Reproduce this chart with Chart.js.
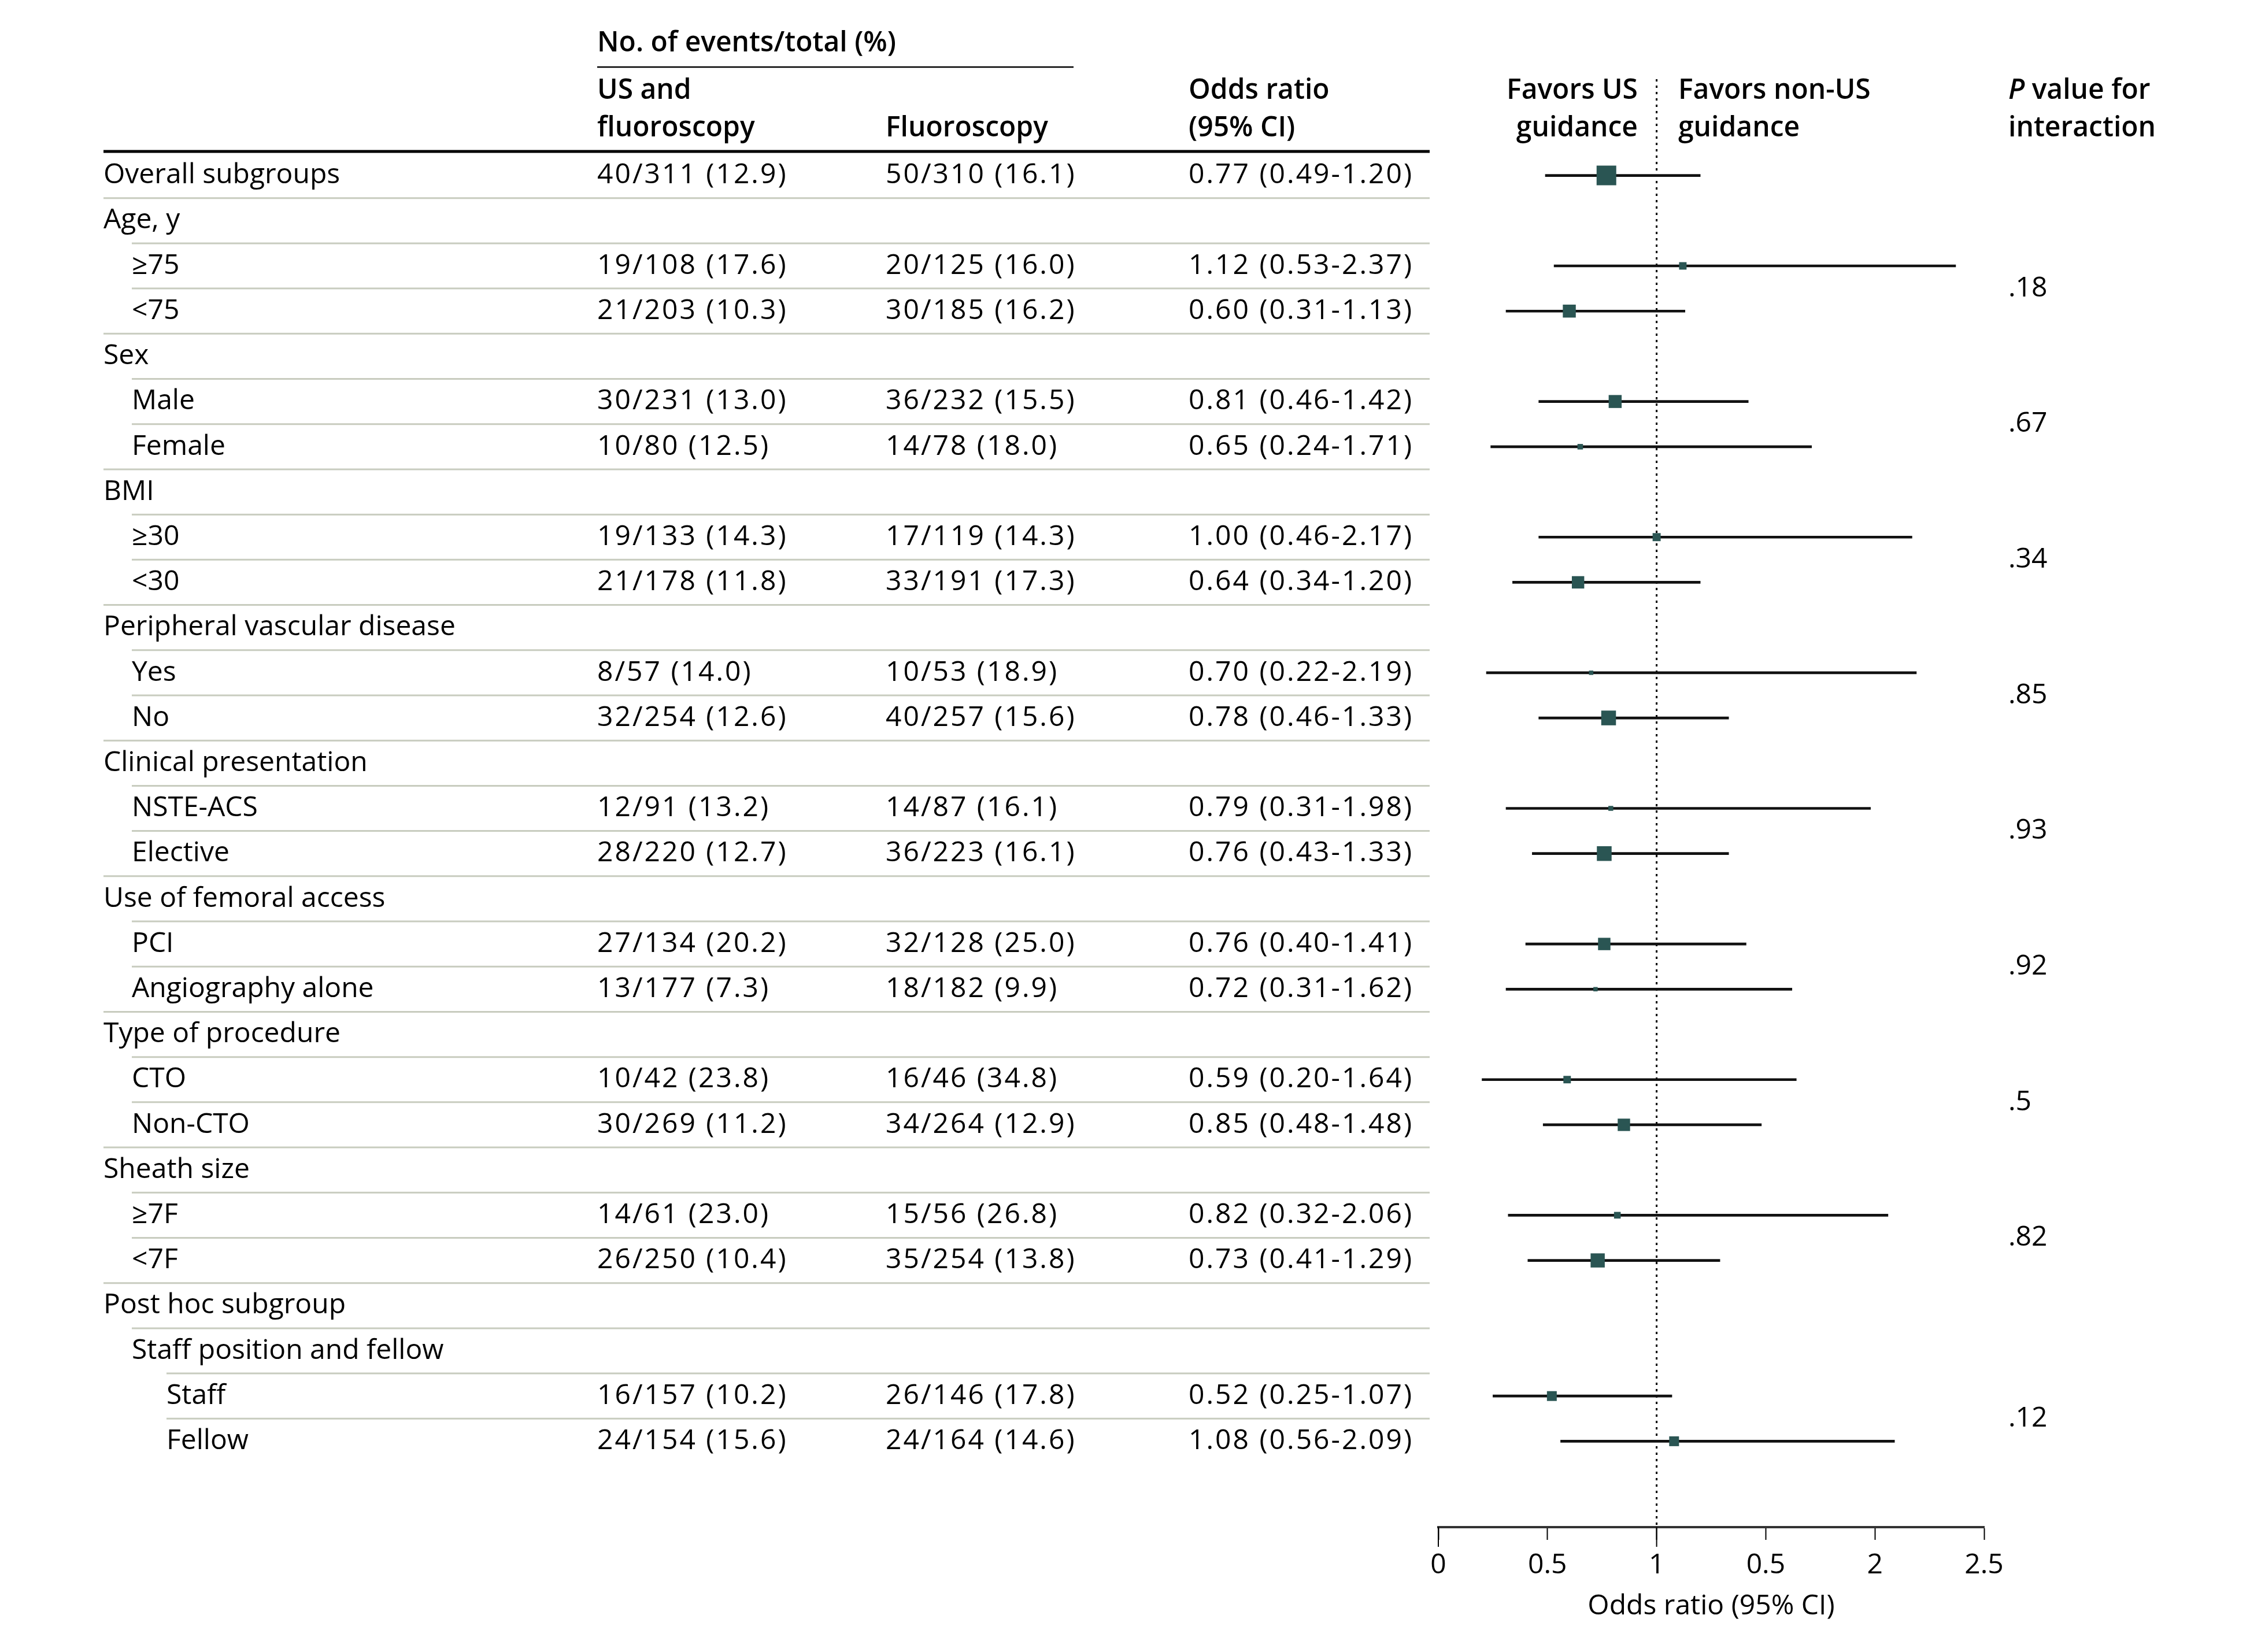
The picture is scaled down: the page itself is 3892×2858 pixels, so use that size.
<!DOCTYPE html>
<html>
<head>
<meta charset="utf-8">
<script src="https://cdn.jsdelivr.net/npm/chart.js@4.4.1/dist/chart.umd.min.js"></script>
<style>
html,body{margin:0;padding:0;background:#fff;}
#wrap{width:3892px;height:2858px;position:relative;}
</style>
</head>
<body>
<div id="wrap"><canvas id="c"></canvas></div>
<script>
// ---------- DATA ----------
const rowLabels = ['Overall subgroups','Age, y','\u226575','<75','Sex','Male','Female','BMI','\u226530','<30',
  'Peripheral vascular disease','Yes','No','Clinical presentation','NSTE-ACS','Elective','Use of femoral access',
  'PCI','Angiography alone','Type of procedure','CTO','Non-CTO','Sheath size','\u22657F','<7F','Post hoc subgroup',
  'Staff position and fellow','Staff','Fellow'];
const rowLevel = [0,0,1,1,0,1,1,0,1,1,0,1,1,0,1,1,0,1,1,0,1,1,0,1,1,0,1,2,2];
const usFluoroscopy = ['40/311 (12.9)','','19/108 (17.6)','21/203 (10.3)','','30/231 (13.0)','10/80 (12.5)','',
  '19/133 (14.3)','21/178 (11.8)','','8/57 (14.0)','32/254 (12.6)','','12/91 (13.2)','28/220 (12.7)','',
  '27/134 (20.2)','13/177 (7.3)','','10/42 (23.8)','30/269 (11.2)','','14/61 (23.0)','26/250 (10.4)','','',
  '16/157 (10.2)','24/154 (15.6)'];
const fluoroscopyOnly = ['50/310 (16.1)','','20/125 (16.0)','30/185 (16.2)','','36/232 (15.5)','14/78 (18.0)','',
  '17/119 (14.3)','33/191 (17.3)','','10/53 (18.9)','40/257 (15.6)','','14/87 (16.1)','36/223 (16.1)','',
  '32/128 (25.0)','18/182 (9.9)','','16/46 (34.8)','34/264 (12.9)','','15/56 (26.8)','35/254 (13.8)','','',
  '26/146 (17.8)','24/164 (14.6)'];
const oddsRatioText = ['0.77 (0.49-1.20)','','1.12 (0.53-2.37)','0.60 (0.31-1.13)','','0.81 (0.46-1.42)','0.65 (0.24-1.71)','',
  '1.00 (0.46-2.17)','0.64 (0.34-1.20)','','0.70 (0.22-2.19)','0.78 (0.46-1.33)','','0.79 (0.31-1.98)','0.76 (0.43-1.33)','',
  '0.76 (0.40-1.41)','0.72 (0.31-1.62)','','0.59 (0.20-1.64)','0.85 (0.48-1.48)','','0.82 (0.32-2.06)','0.73 (0.41-1.29)','','',
  '0.52 (0.25-1.07)','1.08 (0.56-2.09)'];
const oddsRatio = [0.77,null,1.12,0.60,null,0.81,0.65,null,1.00,0.64,null,0.70,0.78,null,0.79,0.76,null,0.76,0.72,null,0.59,0.85,null,0.82,0.73,null,null,0.52,1.08];
const ciLower   = [0.49,null,0.53,0.31,null,0.46,0.24,null,0.46,0.34,null,0.22,0.46,null,0.31,0.43,null,0.40,0.31,null,0.20,0.48,null,0.32,0.41,null,null,0.25,0.56];
const ciUpper   = [1.20,null,2.37,1.13,null,1.42,1.71,null,2.17,1.20,null,2.19,1.33,null,1.98,1.33,null,1.41,1.62,null,1.64,1.48,null,2.06,1.29,null,null,1.07,2.09];
const markerWeight = [1.00,null,0.38,0.66,null,0.66,0.28,null,0.41,0.63,null,0.22,0.75,null,0.25,0.75,null,0.63,0.22,null,0.38,0.63,null,0.34,0.72,null,null,0.50,0.50];
const pInteraction = ['','','.18','','','.67','','','.34','','','.85','','','.93','','','.92','','','.5','','','.82','','','','.12',''];
const xTickLabels = ['0','0.5','1','0.5','2','2.5'];
const referenceOR = 1;

// ---------- STYLE ----------
const FONT = '"Open Sans", "Noto Sans", sans-serif';
const FS = 48;
const MARKER_MAX = 34;
const TEAL = '#2a5553';
const LEVEL_X = [179, 228, 288];
const TABLE_RIGHT = 2473;
const COL_X = [1033, 1532, 2056];
const P_X = 3474;
const Y_MIN = -2.13, Y_MAX = 29.9;

const plotRows = oddsRatio.map((v,i)=>v==null?-1:i).filter(i=>i>=0);

const tablePlugin = {
  id: 'table',
  afterDraw(chart) {
    const ctx = chart.ctx;
    const y = chart.scales.y;
    const x = chart.scales.x;
    const pix = i => y.getPixelForValue(i);
    ctx.save();
    ctx.fillStyle = '#000';
    ctx.textBaseline = 'middle';
    ctx.textAlign = 'left';
    // headers
    ctx.font = `600 ${FS}px ${FONT}`;
    ctx.fillText('No. of events/total (%)', COL_X[0], 75);
    ctx.fillText('US and', COL_X[0], 157);
    ctx.fillText('fluoroscopy', COL_X[0], 222);
    ctx.fillText('Fluoroscopy', COL_X[1], 222);
    ctx.fillText('Odds ratio', COL_X[2], 157);
    ctx.fillText('(95% CI)', COL_X[2], 222);
    ctx.textAlign = 'right';
    ctx.fillText('Favors US', 2833, 157);
    ctx.fillText('guidance', 2833, 222);
    ctx.textAlign = 'left';
    ctx.fillText('Favors non-US', 2903, 157);
    ctx.fillText('guidance', 2903, 222);
    ctx.font = `italic 600 ${FS}px ${FONT}`;
    ctx.fillText('P', P_X, 157);
    const pw = ctx.measureText('P').width;
    ctx.font = `600 ${FS}px ${FONT}`;
    ctx.fillText(' value for', P_X + pw, 157);
    ctx.fillText('interaction', P_X, 222);
    // header rules
    ctx.strokeStyle = '#000';
    ctx.lineWidth = 2.5;
    ctx.beginPath(); ctx.moveTo(COL_X[0], 116); ctx.lineTo(1857, 116); ctx.stroke();
    ctx.lineWidth = 5;
    ctx.beginPath(); ctx.moveTo(LEVEL_X[0], 262); ctx.lineTo(TABLE_RIGHT, 262); ctx.stroke();
    // separators
    ctx.strokeStyle = '#c8ccbf';
    ctx.lineWidth = 3;
    for (let i = 0; i < rowLabels.length - 1; i++) {
      const yy = (pix(i) + pix(i+1)) / 2;
      ctx.beginPath(); ctx.moveTo(LEVEL_X[rowLevel[i+1]], yy); ctx.lineTo(TABLE_RIGHT, yy); ctx.stroke();
    }
    // rows
    ctx.font = `400 ${FS}px ${FONT}`;
    ctx.fillStyle = '#000';
    for (let i = 0; i < rowLabels.length; i++) {
      const yy = pix(i);
      ctx.letterSpacing = '0px';
      ctx.fillText(rowLabels[i], LEVEL_X[rowLevel[i]], yy);
      if (pInteraction[i]) ctx.fillText(pInteraction[i], P_X, (pix(i) + pix(i+1)) / 2);
      ctx.letterSpacing = '3px';
      if (usFluoroscopy[i]) ctx.fillText(usFluoroscopy[i], COL_X[0], yy);
      if (fluoroscopyOnly[i]) ctx.fillText(fluoroscopyOnly[i], COL_X[1], yy);
      if (oddsRatioText[i]) ctx.fillText(oddsRatioText[i], COL_X[2], yy);
    }
    ctx.letterSpacing = '0px';
    // long ticks at 0 and 1
    ctx.strokeStyle = '#000';
    ctx.lineWidth = 2;
    [0, 1].forEach(v => {
      const px = x.getPixelForValue(v);
      ctx.beginPath(); ctx.moveTo(px, x.top); ctx.lineTo(px, x.top + 34); ctx.stroke();
    });
    ctx.restore();
  }
};

function build() {
  new Chart(document.getElementById('c'), {
    type: 'scatter',
    data: {
      datasets: [
        {
          type: 'scatter',
          order: 0,
          data: plotRows.map(i => ({x: oddsRatio[i], y: i})),
          pointStyle: 'rect',
          pointRadius: plotRows.map(i => markerWeight[i] * MARKER_MAX / Math.SQRT2),
          pointHoverRadius: plotRows.map(i => markerWeight[i] * MARKER_MAX / Math.SQRT2),
          backgroundColor: TEAL,
          borderWidth: 0,
          clip: false
        },
        {
          type: 'bar',
          order: 1,
          indexAxis: 'y',
          data: plotRows.map(i => ({x: [ciLower[i], ciUpper[i]], y: i})),
          backgroundColor: '#111',
          borderWidth: 0,
          barThickness: 4,
          grouped: false,
          clip: false
        },
        {
          type: 'line',
          order: 2,
          data: [{x: referenceOR, y: Y_MIN}, {x: referenceOR, y: Y_MAX}],
          borderColor: '#000',
          borderWidth: 3,
          borderDash: [4, 7],
          pointRadius: 0,
          fill: false
        }
      ]
    },
    options: {
      responsive: true,
      maintainAspectRatio: false,
      devicePixelRatio: 1,
      animation: false,
      events: [],
      layout: { padding: { left: 2488, right: 3892 - 3432, top: 137, bottom: 0 } },
      plugins: { legend: { display: false }, tooltip: { enabled: false } },
      scales: {
        x: {
          type: 'linear',
          position: 'bottom',
          min: 0, max: 2.5,
          offset: false,
          afterFit(scale) { scale.height = 216; },
          ticks: {
            stepSize: 0.5,
            autoSkip: false,
            maxRotation: 0,
            padding: 16,
            color: '#000',
            font: { family: FONT, size: FS },
            callback: (v, i) => xTickLabels[i]
          },
          grid: { drawOnChartArea: false, drawTicks: true, tickLength: 22, tickWidth: 2, tickColor: '#000', offset: false },
          border: { display: true, color: '#333', width: 4 },
          title: { display: true, text: 'Odds ratio (95% CI)', color: '#000', font: { family: FONT, size: FS }, padding: { top: 0, bottom: 50 } }
        },
        y: {
          type: 'linear',
          display: false,
          reverse: true,
          min: Y_MIN, max: Y_MAX,
          offset: false
        }
      }
    },
    plugins: [tablePlugin]
  });
}
Promise.all([
  document.fonts.load(`400 ${FS}px "Open Sans"`),
  document.fonts.load(`600 ${FS}px "Open Sans"`),
  document.fonts.load(`italic 600 ${FS}px "Open Sans"`)
]).then(build, build);
</script>
</body>
</html>
